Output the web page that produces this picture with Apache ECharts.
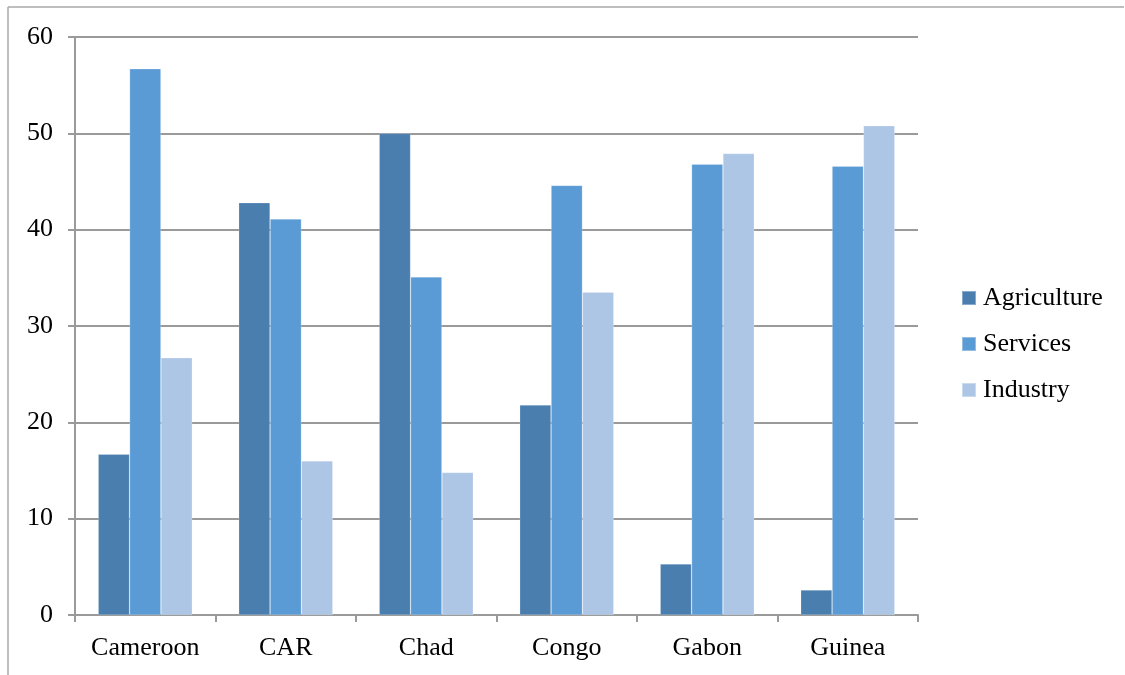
<!DOCTYPE html>
<html>
<head>
<meta charset="utf-8">
<title>Economic sectors by country</title>
<script src="https://cdn.jsdelivr.net/npm/echarts@6/dist/echarts.min.js"></script>
<style>
  html, body { margin: 0; padding: 0; background: #fff; }
  #chart { width: 1125px; height: 675px; }
</style>
</head>
<body>
<div id="chart"></div>
<script>
// Share of each sector per country (%)
const countries = ['Cameroon', 'CAR', 'Chad', 'Congo', 'Gabon', 'Guinea'];
const agriculture = [16.7, 42.8, 50.0, 21.8, 5.3, 2.6];
const services = [56.7, 41.1, 35.1, 44.6, 46.8, 46.6];
const industry = [26.7, 16.0, 14.8, 33.5, 47.9, 50.8];
const yTicks = { min: 0, max: 60, step: 10 };

const FONT = '"Liberation Serif", "DejaVu Serif", serif';
const FONT_SIZE = 26;
const GRID_GRAY = '#9a9a9a';

const chart = echarts.init(document.getElementById('chart'), null, { renderer: 'canvas' });

function barSeries(name, data, color) {
  return {
    name: name,
    type: 'bar',
    data: data,
    barGap: '0%',
    barCategoryGap: '33%',
    itemStyle: { color: color, borderColor: 'rgba(255,255,255,0.35)', borderWidth: 0.6 },
    emphasis: { disabled: true }
  };
}

chart.setOption({
  animation: false,
  backgroundColor: '#fff',
  textStyle: { fontFamily: FONT },
  grid: { left: 75, right: 207, top: 37, bottom: 60, containLabel: false },
  legend: {
    orient: 'vertical',
    left: 961,
    top: 285,
    padding: 0,
    itemWidth: 14,
    itemHeight: 14,
    itemGap: 20,
    icon: 'rect',
    textStyle: { fontFamily: FONT, fontSize: FONT_SIZE, lineHeight: 25, color: '#000', padding: [0, 0, 0, 2] },
    data: ['Agriculture', 'Services', 'Industry']
  },
  xAxis: {
    type: 'category',
    data: countries,
    axisLine: { show: true, lineStyle: { color: GRID_GRAY, width: 2 } },
    axisTick: { show: true, interval: 0, length: 7, alignWithLabel: false, lineStyle: { color: GRID_GRAY, width: 2 } },
    axisLabel: { interval: 0, hideOverlap: false, fontFamily: FONT, fontSize: FONT_SIZE, color: '#000', margin: 20 }
  },
  yAxis: {
    type: 'value',
    min: yTicks.min,
    max: yTicks.max,
    interval: yTicks.step,
    axisLine: { show: true, lineStyle: { color: GRID_GRAY, width: 2 } },
    axisTick: { show: true, length: 7, lineStyle: { color: GRID_GRAY, width: 2 } },
    axisLabel: { fontFamily: FONT, fontSize: FONT_SIZE, color: '#000', margin: 22 },
    splitLine: { show: true, lineStyle: { color: GRID_GRAY, width: 2 } }
  },
  series: [
    barSeries('Agriculture', agriculture, '#4a7eaf'),
    barSeries('Services', services, '#5b9bd5'),
    barSeries('Industry', industry, '#adc6e5')
  ],
  graphic: [
    // frame around the chart area (top and left edges)
    { type: 'line', shape: { x1: 8, y1: 7, x2: 1124, y2: 7 }, style: { stroke: '#a8a8a8', lineWidth: 1.5 }, silent: true },
    { type: 'line', shape: { x1: 8, y1: 7, x2: 8, y2: 675 }, style: { stroke: '#a8a8a8', lineWidth: 1.5 }, silent: true }
  ]
});
</script>
</body>
</html>
